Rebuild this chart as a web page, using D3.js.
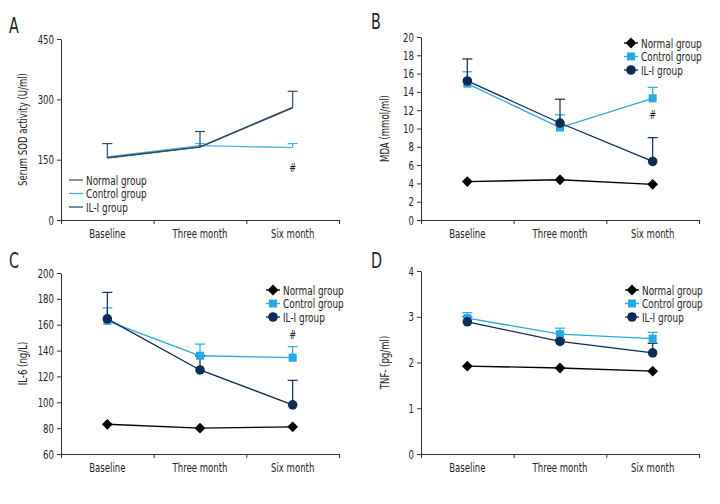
<!DOCTYPE html>
<html>
<head>
<meta charset="utf-8">
<script src="https://cdn.jsdelivr.net/npm/d3@7"></script>
<style>
  body { margin: 0; background: #fff; }
  svg text { font-family: 'Liberation Sans Narrow', 'DejaVu Sans Condensed', sans-serif; fill: #222; }
</style>
</head>
<body>
<div id="chart"></div>
<script>
// categories and series
const categories = ['Baseline', 'Three month', 'Six month'];
const groups = ['Normal group', 'Control group', 'IL-I group'];

// A: serum SOD
const sodNormal = [154, 181, 279];
const sodControl = [157, 185, 180];
const sodIL = [155, 182, 280];
const sodNormalErr = [null, null, null];
const sodControlErr = [null, 190, 190];
const sodILErr = [190, 220, 320];

// B: MDA
const mdaNormal = [4.2, 4.4, 3.9];
const mdaControl = [14.9, 10.1, 13.3];
const mdaIL = [15.2, 10.6, 6.4];
const mdaControlErr = [16.2, 11.5, 14.5];
const mdaILErr = [17.6, 13.2, 9.0];

// C: IL-6
const il6Normal = [83, 80, 81];
const il6Control = [163, 136, 134.5];
const il6IL = [164.5, 125, 98];
const il6ControlErr = [173, 145, 143];
const il6ILErr = [185, 136, 117];

// D: TNF
const tnfNormal = [1.92, 1.88, 1.81];
const tnfControl = [2.97, 2.62, 2.52];
const tnfIL = [2.89, 2.46, 2.21];
const tnfControlErr = [3.09, 2.75, 2.66];
const tnfILErr = [3.0, 2.5, 2.42];

const yTicksA = [0, 150, 300, 450];
const yTicksB = d3.range(0, 21, 2);
const yTicksC = d3.range(60, 201, 20);
const yTicksD = [0, 1, 2, 3, 4];

const colors = { normal: '#000000', control: '#27a9e1', il: '#0c2b55' };
const colorsA = { normal: '#555555', control: '#3fb6e8', il: '#2d4a68' };

const svg = d3.select('#chart').append('svg')
  .attr('width', 720).attr('height', 504);

function marker(sel, s) {
  sel.attr('d', d3.symbol().type(s.symbol).size(s.size)).attr('fill', s.color);
}

function panel(cfg) {
  const g = svg.append('g');
  const x0 = cfg.left, x1 = cfg.left + 278;
  const band = d3.scaleBand().domain(categories).range([x0, x1]);
  const edge = d3.scaleLinear().domain([0, 3]).range([x0, x1]);
  const y = d3.scaleLinear().domain(cfg.domain).range([cfg.bottom, cfg.top]);
  const cx = c => band(c) + band.bandwidth() / 2;

  // y axis
  const ya = g.append('g').attr('transform', `translate(${x0},0)`)
    .call(d3.axisLeft(y).tickValues(cfg.ticks).tickFormat(d3.format('d'))
      .tickSize(4).tickSizeOuter(0).tickPadding(3));
  // x axis ticks at band edges
  const xa = g.append('g').attr('transform', `translate(0,${cfg.bottom})`)
    .call(d3.axisBottom(edge).tickValues([0, 1, 2, 3]).tickFormat('').tickSize(4).tickSizeOuter(0));
  const xl = g.append('g').attr('transform', `translate(0,${cfg.bottom})`)
    .call(d3.axisBottom(band).tickSize(0).tickPadding(9));
  xl.select('.domain').remove();
  [ya, xa, xl].forEach(a => {
    a.selectAll('.domain, line').attr('stroke', '#333').attr('stroke-width', 1);
    a.selectAll('text').style('font-size', '12.5px').attr('fill', '#222');
  });

  // y label
  g.append('text')
    .attr('transform', `translate(${cfg.labelX},${(cfg.top + cfg.bottom) / 2}) rotate(-90)`)
    .attr('text-anchor', 'middle')
    .style('font-size', '12.5px')
    .text(cfg.yLabel);

  // panel letter
  g.append('text').attr('x', cfg.letterX).attr('y', cfg.letterY)
    .style('font-size', '21px').text(cfg.letter);

  const line = d3.line().x((d, i) => cx(categories[i])).y(d => y(d));

  cfg.series.forEach(s => {
    // error bars
    if (s.err) {
      s.err.forEach((e, i) => {
        if (e == null) return;
        const px = cx(categories[i]);
        g.append('line').attr('x1', px).attr('x2', px)
          .attr('y1', y(s.values[i])).attr('y2', y(e))
          .attr('stroke', s.color).attr('stroke-width', 1.2);
        g.append('line').attr('x1', px - 5).attr('x2', px + 5)
          .attr('y1', y(e)).attr('y2', y(e))
          .attr('stroke', s.color).attr('stroke-width', 1.2);
      });
    }
    g.append('path').datum(s.values)
      .attr('d', line).attr('fill', 'none')
      .attr('stroke', s.color).attr('stroke-width', 1.3);
  });

  cfg.series.forEach(s => {
    if (!s.symbol) return;
    g.selectAll(null).data(s.values).enter().append('path')
      .attr('transform', (d, i) => `translate(${cx(categories[i])},${y(d)}) rotate(${s.rot || 0})`)
      .call(marker, s);
  });

  // significance mark
  if (cfg.hash != null) {
    g.append('text').attr('x', cx(categories[2])).attr('y', y(cfg.hash))
      .attr('text-anchor', 'middle').style('font-size', '12px').text('#');
  }

  // legend
  cfg.series.forEach((s, i) => {
    const ly = cfg.legendY + i * 13.5;
    g.append('line').attr('x1', cfg.legendX - 7).attr('x2', cfg.legendX + 7)
      .attr('y1', ly).attr('y2', ly).attr('stroke', s.color).attr('stroke-width', 1.3);
    if (s.symbol) {
      g.append('path').attr('transform', `translate(${cfg.legendX},${ly}) rotate(${s.rot || 0})`)
        .call(marker, s);
    }
    g.append('text').attr('x', cfg.legendX + 10).attr('y', ly).attr('dy', '0.35em')
      .style('font-size', '13px').text(groups[i]);
  });
}

const normalSym = { symbol: d3.symbolSquare, size: 58, rot: 45 };
const controlSym = { symbol: d3.symbolSquare, size: 64 };
const ilSym = { symbol: d3.symbolCircle, size: 72 };

panel({
  letter: 'A', letterX: 9, letterY: 33, left: 61, top: 39, bottom: 220,
  domain: [0, 450], ticks: yTicksA, yLabel: 'Serum SOD activity (U/ml)', labelX: 27,
  hash: 120, legendX: 76, legendY: 180,
  series: [
    { values: sodNormal, err: sodNormalErr, color: colorsA.normal },
    { values: sodControl, err: sodControlErr, color: colorsA.control },
    { values: sodIL, err: sodILErr, color: colorsA.il }
  ]
});

panel({
  letter: 'B', letterX: 371, letterY: 29, left: 421, top: 37, bottom: 220,
  domain: [0, 20], ticks: yTicksB, yLabel: 'MDA (mmol/ml)', labelX: 389,
  hash: 11.0, legendX: 631, legendY: 43,
  series: [
    { values: mdaNormal, color: colors.normal, ...normalSym },
    { values: mdaControl, err: mdaControlErr, color: colors.control, ...controlSym },
    { values: mdaIL, err: mdaILErr, color: colors.il, ...ilSym }
  ]
});

panel({
  letter: 'C', letterX: 9, letterY: 268, left: 61, top: 273, bottom: 454,
  domain: [60, 200], ticks: yTicksC, yLabel: 'IL-6 (ng/L)', labelX: 27,
  hash: 149, legendX: 273, legendY: 290,
  series: [
    { values: il6Normal, color: colors.normal, ...normalSym },
    { values: il6Control, err: il6ControlErr, color: colors.control, ...controlSym },
    { values: il6IL, err: il6ILErr, color: colors.il, ...ilSym }
  ]
});

panel({
  letter: 'D', letterX: 371, letterY: 268, left: 421, top: 271, bottom: 454,
  domain: [0, 4], ticks: yTicksD, yLabel: 'TNF- (pg/ml)', labelX: 389,
  hash: null, legendX: 632, legendY: 290,
  series: [
    { values: tnfNormal, color: colors.normal, ...normalSym },
    { values: tnfControl, err: tnfControlErr, color: colors.control, ...controlSym },
    { values: tnfIL, err: tnfILErr, color: colors.il, ...ilSym }
  ]
});

// squeeze the glyphs to imitate the narrow face of the original
svg.selectAll('text').each(function () {
  const w = this.getComputedTextLength();
  if (w > 0) d3.select(this).attr('textLength', w * 0.76).attr('lengthAdjust', 'spacingAndGlyphs');
});
</script>
</body>
</html>
